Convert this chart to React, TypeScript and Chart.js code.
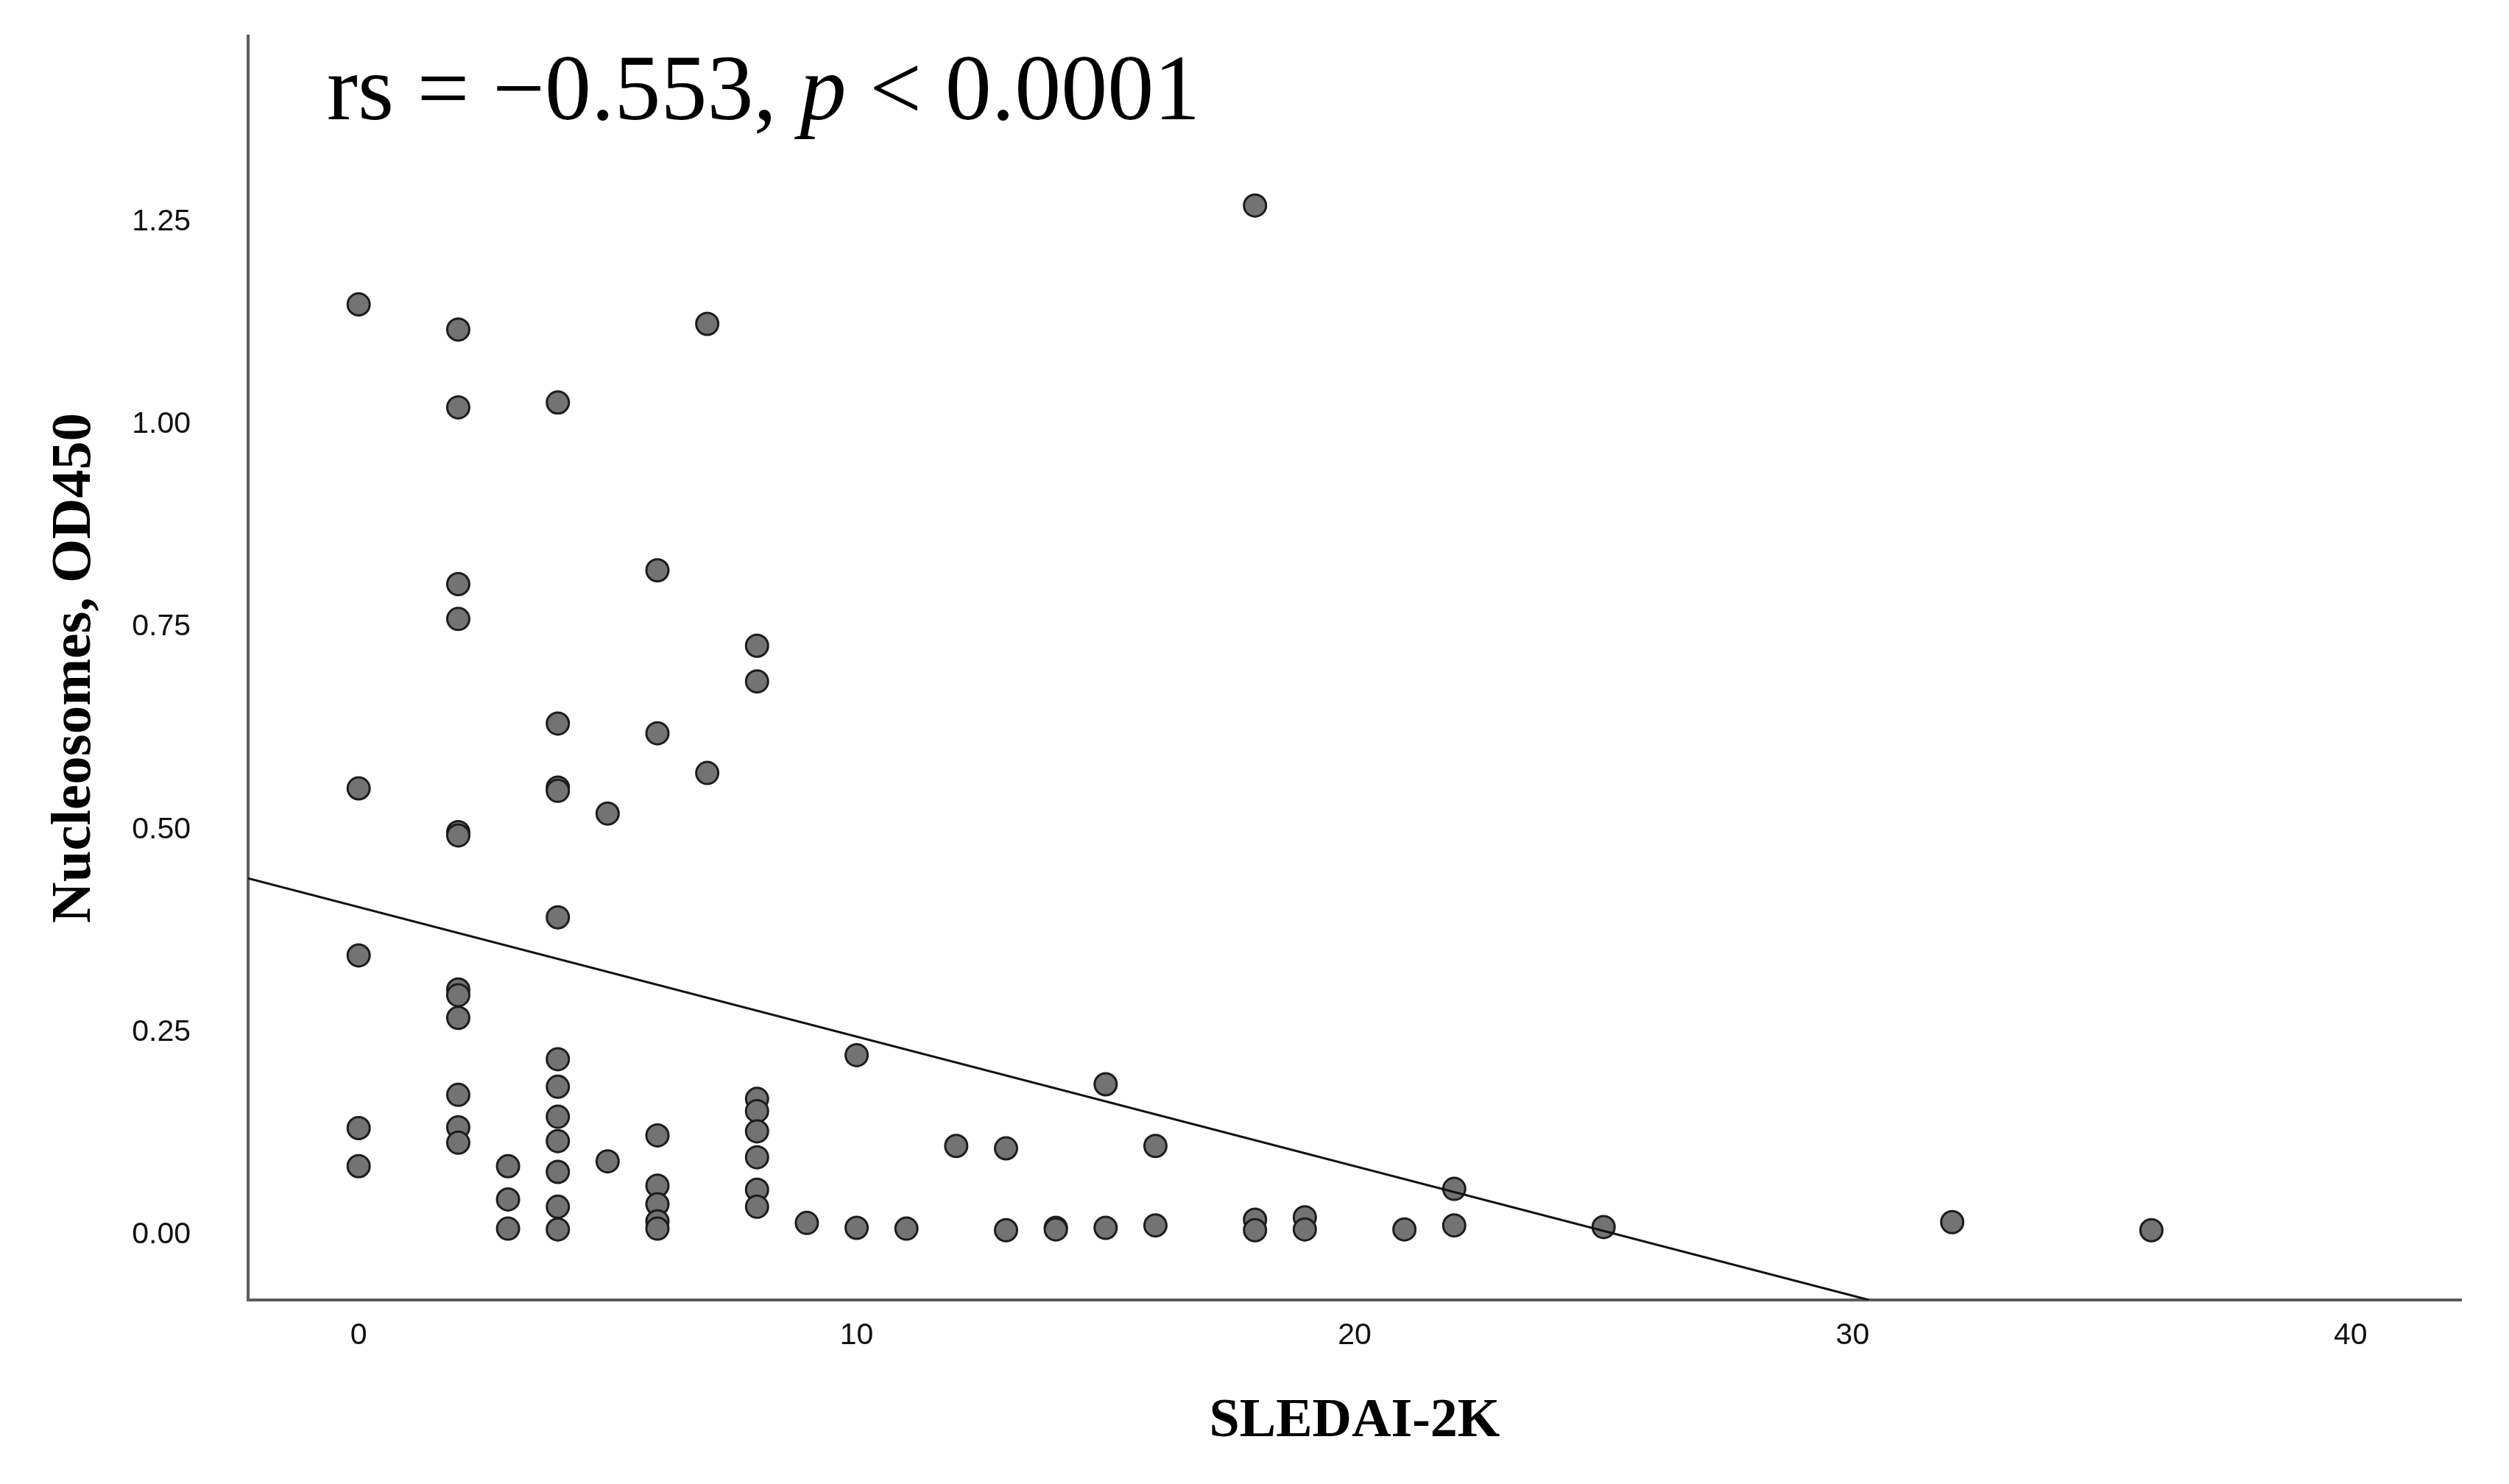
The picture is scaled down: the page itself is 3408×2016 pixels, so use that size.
import React, { useEffect, useRef } from "react";
import { Chart, registerables } from "chart.js";

Chart.register(...registerables);

// SLEDAI-2K score of each patient
const sledaiScores: number[] = [
  0, 0, 0, 0, 0,
  2, 2, 2, 2, 2, 2, 2, 2, 2, 2, 2, 2,
  3, 3, 3,
  4, 4, 4, 4, 4, 4, 4, 4, 4, 4, 4, 4,
  5, 5,
  6, 6, 6, 6, 6, 6, 6,
  7, 7,
  8, 8, 8, 8, 8, 8, 8, 8,
  9,
  10, 10,
  11,
  12,
  13, 13,
  14, 14,
  15, 15,
  16, 16,
  18, 18, 18,
  19, 19,
  21,
  22, 22,
  25,
  32,
  36,
];

// Nucleosomes, OD450 of each patient (same order)
const nucleosomeOD: number[] = [
  1.148, 0.551, 0.345, 0.132, 0.085,
  1.117, 1.021, 0.803, 0.76, 0.497, 0.493, 0.303, 0.296, 0.268, 0.173, 0.133, 0.114,
  0.085, 0.044, 0.008,
  1.027, 0.631, 0.552, 0.548, 0.392, 0.217, 0.183, 0.146, 0.116, 0.078, 0.035, 0.007,
  0.52, 0.091,
  0.82, 0.619, 0.123, 0.061, 0.038, 0.017, 0.008,
  1.124, 0.57,
  0.727, 0.683, 0.168, 0.153, 0.128, 0.096, 0.056, 0.035,
  0.015,
  0.222, 0.009,
  0.008,
  0.11,
  0.107, 0.006,
  0.009, 0.007,
  0.186, 0.009,
  0.11, 0.012,
  1.27, 0.019, 0.006,
  0.022, 0.007,
  0.007,
  0.057, 0.012,
  0.01,
  0.016,
  0.006,
];

// Fit line end points
const fitLineX: number[] = [-2.22, 30.33];
const fitLineY: number[] = [0.44, -0.08];

// Axis ticks
const xTickValues: number[] = [0, 10, 20, 30, 40];
const yTickValues: number[] = [0, 0.25, 0.5, 0.75, 1.0, 1.25];

const xTitle = "SLEDAI-2K";
const yTitle = "Nucleosomes, OD450";
const annotationParts: { text: string; italic: boolean }[] = [
  { text: "rs = \u22120.553, ", italic: false },
  { text: "p", italic: true },
  { text: " < 0.0001", italic: false },
];

const annotationPlugin = {
  id: "corrAnnotation",
  afterDraw(chart: any) {
    const { ctx, chartArea } = chart;
    ctx.save();
    ctx.fillStyle = "#000";
    ctx.textBaseline = "alphabetic";
    ctx.textAlign = "left";
    let x = chartArea.left + 107;
    const y = chartArea.top + 113;
    for (const part of annotationParts) {
      ctx.font = `${part.italic ? "italic " : ""}126px "Liberation Serif", "Times New Roman", serif`;
      ctx.fillText(part.text, x, y);
      x += ctx.measureText(part.text).width;
    }
    ctx.restore();
  },
};

export default function App() {
  const canvasRef = useRef<HTMLCanvasElement | null>(null);

  useEffect(() => {
    const canvas = canvasRef.current;
    if (!canvas) return;
    const points = sledaiScores.map((x, i) => ({ x, y: nucleosomeOD[i] }));
    const fitPoints = fitLineX.map((x, i) => ({ x, y: fitLineY[i] }));

    const tickFont = { family: '"Liberation Sans", Arial, sans-serif', size: 41 };
    const titleFamily = '"Liberation Serif", "Times New Roman", serif';

    const chart = new Chart(canvas, {
      type: "scatter",
      data: {
        datasets: [
          {
            type: "scatter",
            data: points,
            pointRadius: 15,
            pointBorderWidth: 3,
            backgroundColor: "#737373",
            borderColor: "#1c1c1c",
            order: 2,
          },
          {
            type: "line",
            data: fitPoints,
            showLine: true,
            pointRadius: 0,
            borderColor: "#111",
            borderWidth: 3,
            fill: false,
            order: 1,
          } as any,
        ],
      },
      options: {
        responsive: false,
        animation: false,
        events: [],
        layout: { padding: { top: 49, right: 65, left: 0, bottom: 0 } },
        plugins: {
          legend: { display: false },
          tooltip: { enabled: false },
        },
        scales: {
          x: {
            type: "linear",
            min: -2.22,
            max: 42.22,
            afterBuildTicks: (s: any) => {
              s.ticks = xTickValues.map((v) => ({ value: v }));
            },
            afterFit: (s: any) => {
              s.height = 250;
              s.paddingLeft = 0;
              s.paddingRight = 0;
              s.paddingTop = 0;
              s.paddingBottom = 0;
            },
            grid: { display: false, drawTicks: false },
            border: { display: true, color: "#5c5c5c", width: 4 },
            ticks: {
              font: tickFont,
              color: "#111",
              padding: 24,
              maxRotation: 0,
              callback: (v: any) => String(v),
            },
            title: {
              display: true,
              text: xTitle,
              font: { family: titleFamily, size: 74, weight: "bold" },
              color: "#000",
              padding: { top: 0, bottom: 40 },
            },
          },
          y: {
            type: "linear",
            min: -0.08,
            max: 1.479,
            afterBuildTicks: (s: any) => {
              s.ticks = yTickValues.map((v) => ({ value: v }));
            },
            afterFit: (s: any) => {
              s.width = 337;
              s.paddingLeft = 0;
              s.paddingRight = 0;
              s.paddingTop = 0;
              s.paddingBottom = 0;
            },
            grid: { display: false, drawTicks: false },
            border: { display: true, color: "#5c5c5c", width: 4 },
            ticks: {
              font: tickFont,
              color: "#111",
              padding: 78,
              callback: (v: any) => Number(v).toFixed(2),
            },
            title: {
              display: true,
              text: yTitle,
              font: { family: titleFamily, size: 77, weight: "bold" },
              color: "#000",
              padding: { top: 56, bottom: 0 },
            },
          },
        },
      },
      plugins: [annotationPlugin],
    });

    return () => chart.destroy();
  }, []);

  return (
    <div style={{ position: "fixed", left: 0, top: 0, width: 3408, height: 2016, background: "#fff" }}>
      <canvas ref={canvasRef} width={3408} height={2016} style={{ display: "block" }} />
    </div>
  );
}
